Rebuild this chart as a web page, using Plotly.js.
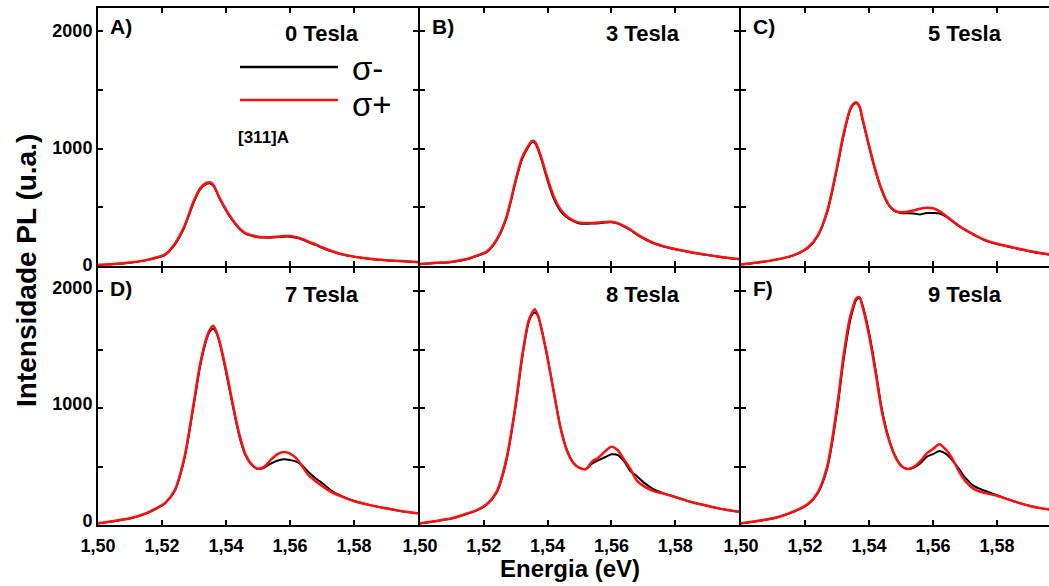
<!DOCTYPE html>
<html>
<head>
<meta charset="utf-8">
<script src="https://cdn.plot.ly/plotly-3.0.1.min.js"></script>
<style>
html,body{margin:0;padding:0;overflow:hidden;background:#fff;}
#chart{width:1070px;height:586px;}
</style>
</head>
<body>
<div id="chart"></div>
<script>
// Energy grid (eV)
const energy = [1.500,1.505,1.510,1.515,1.518,1.521,1.524,1.527,1.530,1.532,1.534,1.535,1.536,1.537,1.538,1.540,1.542,1.544,1.546,1.548,1.550,1.552,1.554,1.556,1.558,1.560,1.562,1.564,1.566,1.568,1.570,1.573,1.576,1.580,1.585,1.590,1.595,1.600];

// 0 Tesla
const plus0T  = [10,18,30,50,70,100,190,340,560,665,710,714,695,641,581,480,397,328,281,262,250,246,245,250,256,255,245,228,205,185,160,128,102,80,62,50,42,35];
const minus0T = [8,16,28,48,68,95,182,330,548,655,700,705,685,636,575,474,390,322,277,258,246,243,242,246,250,250,241,224,200,180,156,125,99,78,60,48,40,33];
// 3 Tesla
const plus3T  = [17,27,37,62,90,125,225,410,735,926,1026,1065,1060,1005,929,747,589,485,425,390,370,366,367,370,376,377,366,340,310,272,240,198,172,145,118,95,75,60];
const minus3T = [15,25,35,60,87,120,218,400,720,912,1016,1055,1050,992,912,728,570,470,415,382,363,360,362,365,370,372,362,335,305,268,236,195,168,142,115,93,73,58];
// 5 Tesla
const plus5T  = [14,30,50,80,110,160,262,475,845,1120,1330,1380,1396,1365,1255,1030,820,650,530,472,458,462,474,488,496,492,468,428,385,345,310,265,225,190,158,128,105,92];
const minus5T = [12,28,48,78,107,155,255,465,830,1105,1320,1372,1390,1358,1245,1018,810,642,525,468,452,450,448,440,452,452,448,422,382,342,307,262,222,187,155,126,103,90];
// 7 Tesla
const plus7T  = [14,35,57,100,140,190,300,580,1060,1390,1611,1675,1705,1655,1570,1330,1055,795,610,520,482,500,558,605,625,612,570,495,420,375,335,282,245,205,170,143,118,100];
const minus7T = [12,33,55,98,137,186,292,565,1040,1370,1595,1660,1680,1645,1560,1310,1035,780,600,515,480,492,525,550,562,556,543,505,448,400,360,293,250,205,170,143,118,100];
// 8 Tesla
const plus8T  = [14,35,57,100,130,180,284,553,1037,1442,1745,1810,1847,1792,1686,1426,1130,838,642,533,489,478,545,578,630,670,640,560,478,380,335,292,272,240,197,165,135,114];
const minus8T = [12,33,55,98,127,176,276,540,1020,1425,1730,1795,1818,1790,1690,1430,1130,840,645,535,489,480,528,555,580,605,598,545,460,418,367,310,275,240,197,165,135,114];
// 9 Tesla
const plus9T  = [14,35,57,100,135,182,280,509,1009,1440,1771,1867,1940,1950,1867,1625,1315,973,747,596,508,479,498,545,611,651,692,645,571,463,380,305,275,250,205,165,138,122];
const minus9T = [12,33,55,98,132,178,272,490,975,1400,1735,1845,1925,1945,1880,1650,1340,995,760,602,510,479,492,526,583,607,633,610,556,484,408,330,295,255,205,165,138,122];

const fieldLabels = ['0 Tesla','3 Tesla','5 Tesla','7 Tesla','8 Tesla','9 Tesla'];
const panelLabels = ['A)','B)','C)','D)','','F)'];
const xTickVals = [1.50,1.52,1.54,1.56,1.58];
const xTickText = ['1,50','1,52','1,54','1,56','1,58'];
const yTickVals = [0,500,1000,1500,2000];
const yTickText = ['0','','1000','','2000'];
const seriesNames = ['σ-','σ+'];

const minusSets = [minus0T,minus3T,minus5T,minus7T,minus8T,minus9T];
const plusSets  = [plus0T,plus3T,plus5T,plus7T,plus8T,plus9T];

const FONT = 'Liberation Sans, Arial, sans-serif';
const traces = [];
for (let i=0;i<6;i++){
  const xa = i===0 ? 'x' : 'x'+(i+1);
  const ya = i===0 ? 'y' : 'y'+(i+1);
  traces.push({x:energy,y:minusSets[i],type:'scatter',mode:'lines',name:seriesNames[0],
    xaxis:xa,yaxis:ya,line:{color:'#000000',width:2,shape:'spline',smoothing:0.8},showlegend:false,hoverinfo:'skip'});
  traces.push({x:energy,y:plusSets[i],type:'scatter',mode:'lines',name:seriesNames[1],
    xaxis:xa,yaxis:ya,line:{color:'#ff1010',width:2.5,shape:'spline',smoothing:0.8},showlegend:false,hoverinfo:'skip'});
}

// plot area in pixels
const PL=98, PT=8, PW=963, PH=517;
const px = v => (v-PL)/PW;
const py = v => (PT+PH-v)/PH;

const layout = {
  width:1070,height:586,
  margin:{l:PL,r:1070-PL-PW,t:PT,b:586-PT-PH},
  paper_bgcolor:'#fff',plot_bgcolor:'#fff',
  showlegend:false,
  font:{family:FONT,color:'#000'},
  annotations:[],shapes:[]
};
// domains chosen so neighbouring panel frames share one 2px line
const colDom = [[0,320/PW],[322/PW,641/PW],[643/PW,1]];
const rowDom = [[259/PH,1],[0,257/PH]];
for (let i=0;i<6;i++){
  const r = Math.floor(i/3), c = i%3;
  const kx = i===0 ? 'xaxis' : 'xaxis'+(i+1);
  const ky = i===0 ? 'yaxis' : 'yaxis'+(i+1);
  const ya = i===0 ? 'y' : 'y'+(i+1);
  const xa = i===0 ? 'x' : 'x'+(i+1);
  const common = {showline:true,linecolor:'#000',linewidth:2,mirror:'ticks',ticks:'inside',ticklen:5,tickwidth:2,tickcolor:'#000',
    showgrid:false,zeroline:false,fixedrange:true,tickfont:{family:FONT,size:18,color:'#000',weight:'bold'}};
  layout[kx] = Object.assign({},common,{domain:colDom[c],anchor:ya,range:[1.50,1.60],tickmode:'array',tickvals:xTickVals,ticktext:xTickText,
    showticklabels:r===1,ticklabelstandoff:3});
  layout[ky] = Object.assign({},common,{domain:rowDom[r],anchor:xa,range:[0,2200],tickmode:'array',tickvals:yTickVals,ticktext:yTickText,
    showticklabels:c===0,ticklabelshift:r===1?-4:-1});
  if (panelLabels[i]) layout.annotations.push({xref:xa+' domain',yref:ya+' domain',x:0.032,y:r===0?0.93:0.92,xanchor:'left',yanchor:'middle',
    text:'<b>'+panelLabels[i]+'</b>',showarrow:false,font:{family:FONT,size:21,color:'#000'}});
  layout.annotations.push({xref:xa+' domain',yref:ya+' domain',x:0.70,y:r===0?0.903:0.897,xanchor:'center',yanchor:'middle',
    text:'<b>'+fieldLabels[i]+'</b>',showarrow:false,font:{family:FONT,size:22,color:'#000'}});
}

layout.annotations.push({xref:'paper',yref:'paper',x:px(263),y:py(137),xanchor:'center',yanchor:'middle',
  text:'<b>[311]A</b>',showarrow:false,font:{family:FONT,size:17,color:'#000'}});
layout.annotations.push({xref:'paper',yref:'paper',x:px(350),y:py(68),xanchor:'left',yanchor:'middle',
  text:seriesNames[0],showarrow:false,font:{family:FONT,size:33,color:'#000'}});
layout.annotations.push({xref:'paper',yref:'paper',x:px(350),y:py(105),xanchor:'left',yanchor:'middle',
  text:seriesNames[1],showarrow:false,font:{family:FONT,size:33,color:'#000'}});
layout.shapes.push({type:'line',xref:'paper',yref:'paper',x0:px(240),x1:px(338),y0:py(67),y1:py(67),line:{color:'#000',width:2.5}});
layout.shapes.push({type:'line',xref:'paper',yref:'paper',x0:px(240),x1:px(338),y0:py(100),y1:py(100),line:{color:'#ff1010',width:2.5}});

layout.annotations.push({xref:'paper',yref:'paper',x:px(570),y:py(568),xanchor:'center',yanchor:'middle',
  text:'<b>Energia (eV)</b>',showarrow:false,font:{family:FONT,size:24,color:'#000'}});
layout.annotations.push({xref:'paper',yref:'paper',x:px(26),y:py(271),xanchor:'center',yanchor:'middle',textangle:-90,
  text:'<b>Intensidade PL (u.a.)</b>',showarrow:false,font:{family:FONT,size:28,color:'#000'}});

Plotly.newPlot('chart',traces,layout,{staticPlot:true,displayModeBar:false});
</script>
</body>
</html>
